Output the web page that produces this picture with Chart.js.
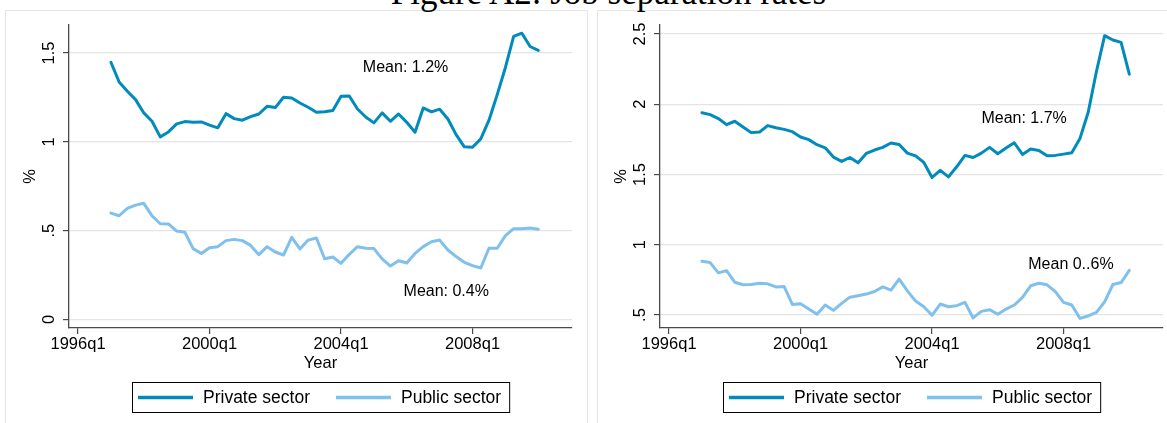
<!DOCTYPE html>
<html>
<head>
<meta charset="utf-8">
<script src="https://cdn.jsdelivr.net/npm/chart.js@4"></script>
<style>
  html, body { margin:0; padding:0; background:#fff; }
  body { width:1167px; height:423px; position:relative; overflow:hidden; }
  .panel { position:absolute; border:1px solid #e6e6e6; background:#fff; }
  #title { position:absolute; left:25px; width:1167px; top:-24px; text-align:center;
           font-family:"Liberation Serif","DejaVu Serif",serif; font-size:35px; line-height:34px; color:#000; white-space:nowrap; }
  canvas { position:absolute; top:0; }
</style>
</head>
<body>
<div class="panel" style="left:5px; top:10px; width:581px; height:430px;"></div>
<div class="panel" style="left:597px; top:10px; width:600px; height:430px;"></div>
<div id="title">Figure A2: Job separation rates</div>
<canvas id="left" width="590" height="423" style="left:0px; width:590px; height:423px;"></canvas>
<canvas id="right" width="577" height="423" style="left:590px; width:577px; height:423px;"></canvas>
<script>
// ---------- DATA ----------
const quarterLabels = [
  '1997q1','1997q2','1997q3','1997q4','1998q1','1998q2','1998q3','1998q4',
  '1999q1','1999q2','1999q3','1999q4','2000q1','2000q2','2000q3','2000q4',
  '2001q1','2001q2','2001q3','2001q4','2002q1','2002q2','2002q3','2002q4',
  '2003q1','2003q2','2003q3','2003q4','2004q1','2004q2','2004q3','2004q4',
  '2005q1','2005q2','2005q3','2005q4','2006q1','2006q2','2006q3','2006q4',
  '2007q1','2007q2','2007q3','2007q4','2008q1','2008q2','2008q3','2008q4',
  '2009q1','2009q2','2009q3','2009q4','2010q1'
];
const seriesNames = ['Private sector', 'Public sector'];

const leftPrivate = [1.448,1.337,1.285,1.238,1.163,1.116,1.028,1.056,1.101,1.114,
  1.110,1.112,1.094,1.079,1.159,1.131,1.122,1.142,1.157,1.200,
  1.193,1.251,1.247,1.219,1.195,1.167,1.169,1.176,1.257,1.258,
  1.185,1.140,1.107,1.163,1.116,1.157,1.110,1.054,1.191,1.169,
  1.184,1.129,1.041,0.972,0.970,1.017,1.122,1.266,1.419,1.594,
  1.612,1.537,1.515];
const leftPublic = [0.599,0.584,0.626,0.644,0.654,0.583,0.539,0.538,0.498,0.491,
  0.399,0.371,0.404,0.410,0.444,0.451,0.444,0.417,0.365,0.410,
  0.380,0.363,0.462,0.397,0.447,0.459,0.342,0.352,0.316,0.367,
  0.410,0.401,0.399,0.341,0.301,0.331,0.318,0.372,0.410,0.438,
  0.447,0.391,0.354,0.322,0.303,0.290,0.401,0.401,0.472,0.511,
  0.511,0.515,0.508];
const rightPrivate = [1.940,1.926,1.898,1.855,1.879,1.838,1.798,1.802,1.848,1.833,
  1.821,1.805,1.767,1.748,1.712,1.690,1.624,1.593,1.621,1.583,
  1.650,1.674,1.693,1.724,1.714,1.652,1.633,1.586,1.479,1.529,
  1.483,1.555,1.636,1.621,1.652,1.693,1.648,1.688,1.726,1.643,
  1.681,1.671,1.633,1.636,1.645,1.655,1.757,1.943,2.233,2.488,
  2.457,2.440,2.214];
const rightPublic = [0.882,0.873,0.800,0.816,0.733,0.715,0.717,0.726,0.722,0.700,
  0.703,0.575,0.580,0.542,0.505,0.571,0.533,0.583,0.627,0.637,
  0.649,0.667,0.700,0.677,0.755,0.672,0.599,0.559,0.498,0.578,
  0.559,0.566,0.590,0.479,0.526,0.538,0.505,0.542,0.571,0.625,
  0.708,0.726,0.715,0.667,0.590,0.571,0.476,0.493,0.519,0.594,
  0.717,0.731,0.818];

const xTickLabels = ['1996q1','2000q1','2004q1','2008q1'];
const leftYTicks = [0, 0.5, 1, 1.5];
const leftYTickLabels = ['0', '.5', '1', '1.5'];
const rightYTicks = [0.5, 1, 1.5, 2, 2.5];
const rightYTickLabels = ['.5', '1', '1.5', '2', '2.5'];

const leftMeans = [{text:'Mean: 1.2%', q:'2006q1', y:1.42, dx:-0.15}, {text:'Mean: 0.4%', q:'2007q1', y:0.156, dx:0.8}];
const rightMeans = [{text:'Mean: 1.7%', q:'2006q3', y:1.897, dx:1.2}, {text:'Mean 0..6%', q:'2008q1', y:0.86, dx:0.9}];

// ---------- HELPERS ----------
const BASE_Q = '1996q1';
function qIndex(lbl) {
  const y = parseInt(lbl.slice(0,4),10), q = parseInt(lbl.slice(5),10);
  const by = parseInt(BASE_Q.slice(0,4),10);
  return (y - by) * 4 + (q - 1);
}
const FONT = '"Liberation Sans", Arial, Helvetica, sans-serif';
const C_PRIV = 'rgb(0,139,188)';
const C_PUB = 'rgb(128,192,236)';
const AXIS_C = '#4a4a4a';

function makeChart(id, priv, pub, yTicks, yTickLabels, yMin, yMax, padRight, yWidth, means) {
  const xTickVals = xTickLabels.map(qIndex);
  const decor = {
    id: 'decor',
    afterDraw(chart) {
      const ctx = chart.ctx, ca = chart.chartArea, ys = chart.scales.y, xs = chart.scales.x;
      ctx.save();
      ctx.fillStyle = '#000';
      ctx.font = '16.5px ' + FONT;
      ctx.textAlign = 'center'; ctx.textBaseline = 'middle';
      yTicks.forEach((v, i) => {
        const py = ys.getPixelForValue(v);
        ctx.save(); ctx.translate(ca.left - 19.5, py); ctx.rotate(-Math.PI/2);
        ctx.fillText(yTickLabels[i], 0, 0); ctx.restore();
      });
      ctx.save(); ctx.translate(ca.left - 39, (ca.top + ca.bottom)/2); ctx.rotate(-Math.PI/2);
      ctx.fillText('%', 0, 0); ctx.restore();
      ctx.fillText('Year', (ca.left + ca.right)/2, 363);
      ctx.font = '16px ' + FONT;
      means.forEach(m => {
        ctx.fillText(m.text, xs.getPixelForValue(qIndex(m.q) + m.dx), ys.getPixelForValue(m.y));
      });
      ctx.font = '17.5px ' + FONT;
      const w1 = ctx.measureText(seriesNames[0]).width, w2 = ctx.measureText(seriesNames[1]).width;
      const boxW = 6 + 55 + 10 + w1 + 26 + 55 + 10 + w2 + 8;
      const bx = Math.round((ca.left + ca.right)/2 - boxW/2), by = 382, bh = 30;
      ctx.strokeStyle = '#000'; ctx.lineWidth = 1;
      ctx.strokeRect(bx + 0.5, by + 0.5, boxW, bh);
      const cy = by + bh/2 + 0.5;
      const cols = [chart.data.datasets[0].borderColor, chart.data.datasets[1].borderColor];
      let cx = bx + 6;
      [w1, w2].forEach((w, i) => {
        ctx.strokeStyle = cols[i]; ctx.lineWidth = 3.5;
        ctx.beginPath(); ctx.moveTo(cx, cy); ctx.lineTo(cx + 55, cy); ctx.stroke();
        cx += 65;
        ctx.textAlign = 'left'; ctx.fillStyle = '#000';
        ctx.fillText(seriesNames[i], cx, cy + 1);
        cx += w + 26;
      });
      ctx.restore();
    }
  };
  return new Chart(document.getElementById(id), {
    type: 'line',
    data: {
      datasets: [
        { label: seriesNames[0], data: quarterLabels.map((q, i) => ({x: qIndex(q), y: priv[i]})),
          borderColor: C_PRIV, borderWidth: 3, pointRadius: 0, tension: 0, borderJoinStyle: 'round', borderCapStyle: 'round', fill: false },
        { label: seriesNames[1], data: quarterLabels.map((q, i) => ({x: qIndex(q), y: pub[i]})),
          borderColor: C_PUB, borderWidth: 3, pointRadius: 0, tension: 0, borderJoinStyle: 'round', borderCapStyle: 'round', fill: false }
      ]
    },
    options: {
      responsive: false, maintainAspectRatio: false, animation: false, devicePixelRatio: 1,
      layout: { padding: { left: 0, right: padRight, top: 25, bottom: 45 } },
      plugins: { legend: { display: false }, tooltip: { enabled: false } },
      scales: {
        x: {
          type: 'linear', min: -1.1, max: 60.1,
          afterBuildTicks: s => { s.ticks = xTickVals.map(v => ({ value: v })); },
          afterFit: s => { s.height = 50; },
          ticks: { autoSkip: false, maxRotation: 0, minRotation: 0, padding: 1, color: '#000',
                   font: { family: FONT, size: 16.5 },
                   callback: v => { const k = xTickVals.indexOf(v); return k >= 0 ? xTickLabels[k] : ''; } },
          grid: { drawOnChartArea: false, drawTicks: true, tickLength: 6, color: AXIS_C, tickColor: AXIS_C, lineWidth: 1.2 },
          border: { display: true, color: AXIS_C, width: 1.3 }
        },
        y: {
          type: 'linear', min: yMin, max: yMax,
          afterBuildTicks: s => { s.ticks = yTicks.map(v => ({ value: v })); },
          afterFit: s => { s.width = yWidth; },
          ticks: { display: false },
          grid: { drawOnChartArea: true, drawTicks: true, tickLength: 6, color: '#e4e4e4', tickColor: AXIS_C, lineWidth: 1.2 },
          border: { display: true, color: AXIS_C, width: 1.3 }
        }
      }
    },
    plugins: [decor]
  });
}

makeChart('left', leftPrivate, leftPublic, leftYTicks, leftYTickLabels, -0.048, 1.658, 18, 69, leftMeans);
makeChart('right', rightPrivate, rightPublic, rightYTicks, rightYTickLabels, 0.4075, 2.564, 4, 70, rightMeans);
</script>
</body>
</html>
